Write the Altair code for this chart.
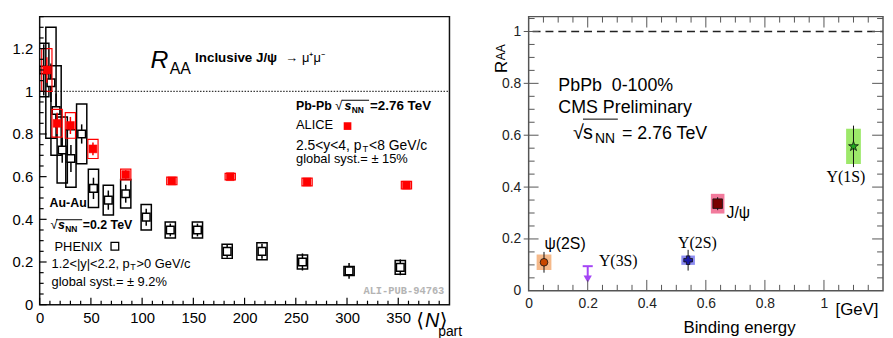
import altair as alt
import pandas as pd

# ---------------- Left panel: inclusive J/psi R_AA vs <Npart> ----------------
phenix_npart = [4, 11, 16, 22, 30.5, 41, 52.5, 67, 84, 104, 127.5, 154, 183, 217, 256.5, 302, 352]
phenix_raa = [1.10, 1.04, 0.91, 0.725, 0.685, 0.80, 0.545, 0.49, 0.52, 0.41, 0.35, 0.35, 0.25, 0.25, 0.20, 0.158, 0.175]
phenix_stat = [0.12, 0.09, 0.08, 0.06, 0.063, 0.045, 0.05, 0.045, 0.042, 0.04, 0.03, 0.03, 0.03, 0.035, 0.04, 0.037, 0.037]
phenix_syst = [0.125, 0.26, 0.21, 0.155, 0.135, 0.14, 0.09, 0.07, 0.067, 0.06, 0.038, 0.038, 0.033, 0.04, 0.033, 0.021, 0.032]

alice_npart = [7, 17, 30, 52, 84, 129, 186, 261, 358]
alice_raa = [1.10, 0.85, 0.84, 0.73, 0.61, 0.58, 0.60, 0.575, 0.56]
alice_stat = [0.06, 0.05, 0.04, 0.03, 0.02, 0.012, 0.01, 0.01, 0.01]
alice_syst = [0.10, 0.065, 0.06, 0.045, 0.025, 0.018, 0.015, 0.018, 0.018]
npart_halfwidth = 5

left_x_labels = [0, 50, 100, 150, 200, 250, 300, 350]
left_x_minor = [v for v in range(10, 400, 10) if v % 50]
left_y_labels = [0, 0.2, 0.4, 0.6, 0.8, 1.0, 1.2]
left_y_minor = [round(0.05 * i, 2) for i in range(1, 28) if i % 4]

# ---------------- Right panel: R_AA vs binding energy ----------------
state_keys = ["psi2S", "ups2S", "jpsi", "ups1S"]
state_names = ["ψ(2S)", "Υ(2S)", "J/ψ", "Υ(1S)"]
binding_energy = [0.052, 0.54, 0.64, 1.10]
raa_value = [0.11, 0.118, 0.336, 0.557]
raa_stat = [0.04, 0.04, 0.025, 0.08]
raa_syst = [0.03, 0.018, 0.038, 0.068]
energy_halfwidth = [0.025, 0.023, 0.023, 0.025]
ups3s_name = "Υ(3S)"
ups3s_energy = 0.20
ups3s_limit = 0.095

right_x_labels = [0, 0.2, 0.4, 0.6, 0.8, 1.0]
right_x_minor = [round(0.05 * i, 2) for i in range(1, 24) if i % 4]
right_y_labels = [0, 0.2, 0.4, 0.6, 0.8, 1.0]
right_y_minor = [round(0.05 * i, 2) for i in range(1, 22) if i % 4]

# ---------------- styles ----------------
SANS = "Liberation Sans"
SERIF = "Liberation Serif"
MONO = "Liberation Mono"
box_colors = ["#f5b98a", "#8c8cf2", "#f27a9c", "#9de86a"]
marker_colors = ["#c84800", "#1a1aa8", "#7a0000", "#1fa81f"]
STAR = "M0,-1L0.2245,-0.309L0.951,-0.309L0.3633,0.118L0.5878,0.809L0,0.382L-0.5878,0.809L-0.3633,0.118L-0.951,-0.309L-0.2245,-0.309Z"
marker_shapes = ["circle", "cross", "square", STAR]
marker_sizes = [60, 110, 60, 200]
UPS3S_COLOR = "#a445f5"

W1, H1 = 414, 291
W2, H2 = 358, 277
X1 = alt.Scale(domain=[0, 400], nice=False, zero=False)
Y1 = alt.Scale(domain=[0, 1.35], nice=False, zero=False)
X2 = alt.Scale(domain=[0, 1.2], nice=False, zero=False)
Y2 = alt.Scale(domain=[0, 1.0573], nice=False, zero=False)

AX_X1 = alt.Axis(values=left_x_labels, format="d", ticks=False, tickSize=0, domain=False, grid=False,
                 labelFont=SANS, labelFontSize=15, labelColor="black", labelPadding=6,
                 labelFlush=False, title=None)
AX_Y1 = alt.Axis(values=left_y_labels, format="~g", ticks=False, tickSize=0, domain=False, grid=False,
                 labelFont=SANS, labelFontSize=15, labelColor="black", labelPadding=7, title=None)
AX_X2 = alt.Axis(values=right_x_labels, format="~g", ticks=False, tickSize=0, domain=False, grid=False,
                 labelFont=SANS, labelFontSize=14, labelColor="#222222", labelPadding=6,
                 labelFlush=False, title=None)
AX_Y2 = alt.Axis(values=right_y_labels, format="~g", ticks=False, tickSize=0, domain=False, grid=False,
                 labelFont=SANS, labelFontSize=14, labelColor="#222222", labelPadding=8, title=None)

PANELS = {"L": (X1, Y1, AX_X1, AX_Y1), "R": (X2, Y2, AX_X2, AX_Y2)}


def ex(p, field):
    xs, ys, xa, ya = PANELS[p]
    return alt.X(field, scale=xs, axis=xa)


def ey(p, field):
    xs, ys, xa, ya = PANELS[p]
    return alt.Y(field, scale=ys, axis=ya)


def txt(p, text, x, y, size, font=SANS, weight="normal", style="normal",
        color="black", align="left", angle=0):
    xs, ys, xa, ya = PANELS[p]
    enc_x = alt.value(x[1]) if isinstance(x, tuple) else alt.XDatum(x, scale=xs, axis=xa)
    enc_y = alt.value(y[1]) if isinstance(y, tuple) else alt.YDatum(y, scale=ys, axis=ya)
    mk = dict(align=align, baseline="alphabetic", font=font, fontSize=size,
              fontWeight=weight, fontStyle=style, color=color)
    if angle:
        mk["angle"] = angle
    return alt.Chart(pd.DataFrame({"t": [text]})).mark_text(**mk).encode(x=enc_x, y=enc_y, text="t:N")


def yticks(p, values, x0, x1, color, width=1.0):
    return alt.Chart(pd.DataFrame({"v": values})).mark_rule(color=color, strokeWidth=width).encode(
        y=ey(p, "v:Q"), x=alt.value(x0), x2=alt.value(x1))


def xticks(p, values, y0, y1, color, width=1.0):
    return alt.Chart(pd.DataFrame({"v": values})).mark_rule(color=color, strokeWidth=width).encode(
        x=ex(p, "v:Q"), y=alt.value(y0), y2=alt.value(y1))


def with_bounds(df, center, value, halfw, syst, stat):
    df = df.copy()
    df["bx1"] = df[center] - halfw
    df["bx2"] = df[center] + halfw
    df["by1"] = df[value] - df[syst]
    df["by2"] = df[value] + df[syst]
    df["ey1"] = df[value] - df[stat]
    df["ey2"] = df[value] + df[stat]
    return df


# ================= LEFT CHART =================
ph = with_bounds(pd.DataFrame({"npart": phenix_npart, "raa": phenix_raa, "stat": phenix_stat, "syst": phenix_syst}),
                 "npart", "raa", npart_halfwidth, "syst", "stat")
al = with_bounds(pd.DataFrame({"npart": alice_npart, "raa": alice_raa, "stat": alice_stat, "syst": alice_syst}),
                 "npart", "raa", npart_halfwidth, "syst", "stat")

axis_anchor1 = alt.Chart(pd.DataFrame({"v": [0]})).mark_point(opacity=0).encode(x=ex("L", "v:Q"), y=ey("L", "v:Q"))
unity1 = alt.Chart(pd.DataFrame({"v": [1.0]})).mark_rule(color="black", strokeWidth=1, strokeDash=[1.5, 1.5]).encode(
    y=ey("L", "v:Q"), x=alt.value(0), x2=alt.value(W1))

ph_box = alt.Chart(ph).mark_rect(fill="white", fillOpacity=0, stroke="black", strokeWidth=1.5, clip=True).encode(
    x=ex("L", "bx1:Q"), x2="bx2:Q", y=ey("L", "by1:Q"), y2="by2:Q")
ph_err = alt.Chart(ph).mark_rule(color="black", strokeWidth=1.5).encode(
    x=ex("L", "npart:Q"), y=ey("L", "ey1:Q"), y2="ey2:Q")
ph_pt = alt.Chart(ph).mark_point(shape="square", filled=True, fill="white", stroke="black",
                                 strokeWidth=1.5, size=60, opacity=1).encode(
    x=ex("L", "npart:Q"), y=ey("L", "raa:Q"))

al_box = alt.Chart(al).mark_rect(fill="white", fillOpacity=0, stroke="#ff0000", strokeWidth=1.2).encode(
    x=ex("L", "bx1:Q"), x2="bx2:Q", y=ey("L", "by1:Q"), y2="by2:Q")
al_err = alt.Chart(al).mark_rule(color="#ff0000", strokeWidth=1.5).encode(
    x=ex("L", "npart:Q"), y=ey("L", "ey1:Q"), y2="ey2:Q")
al_pt = alt.Chart(al).mark_point(shape="square", filled=True, fill="#ff0000", stroke="#ff0000",
                                 strokeWidth=0.5, size=64, opacity=1).encode(
    x=ex("L", "npart:Q"), y=ey("L", "raa:Q"))

leg_alice = alt.Chart(pd.DataFrame({"x": [300.5], "y": [0.837]})).mark_point(
    shape="square", filled=True, fill="#ff0000", size=60, opacity=1).encode(x=ex("L", "x:Q"), y=ey("L", "y:Q"))
leg_phenix = alt.Chart(pd.DataFrame({"x": [73.4], "y": [0.274]})).mark_point(
    shape="square", filled=True, fill="white", stroke="black", strokeWidth=1.3, size=60, opacity=1).encode(
    x=ex("L", "x:Q"), y=ey("L", "y:Q"))

overline_l = alt.Chart(pd.DataFrame({"a": [295.0, 16.0], "b": [321.5, 41.5], "y": [0.958, 0.398]})).mark_rule(
    color="black", strokeWidth=1).encode(x=ex("L", "a:Q"), x2="b:Q", y=ey("L", "y:Q"))

L = lambda *a, **k: txt("L", *a, **k)
left_texts = [
    L("R", 108.2, 1.108, 25, style="italic"),
    L("AA", 127.0, 1.083, 16),
    L("Inclusive J/ψ", 151.7, 1.138, 13.5, weight="bold"),
    L("→ μ⁺μ⁻", 240.0, 1.138, 13),
    L("Pb-Pb", 250.2, 0.914, 12.5, weight="bold"),
    L("√", 288.5, 0.914, 13),
    L("s", 297.5, 0.914, 12.5, weight="bold", style="italic"),
    L("NN", 304.5, 0.900, 8.5, weight="bold"),
    L("=2.76 TeV", 322.5, 0.914, 13.5, weight="bold"),
    L("ALICE", 250.2, 0.821, 13),
    L("2.5<y<4, p", 250.2, 0.7236, 14),
    L("T", 315.0, 0.714, 9.5),
    L("<8 GeV/c", 321.5, 0.7236, 14),
    L("global syst.= ± 15%", 250.2, 0.663, 13),
    L("Au-Au", 9.7, 0.459, 12.5, weight="bold"),
    L("√", 10.6, 0.3525, 13),
    L("s", 17.8, 0.3525, 12.5, weight="bold", style="italic"),
    L("NN", 25.0, 0.3386, 8.5, weight="bold"),
    L("=0.2 TeV", 42.0, 0.3525, 12.5, weight="bold"),
    L("PHENIX", 14.5, 0.25, 13),
    L("1.2<|y|<2.2, p", 11.6, 0.1716, 13),
    L("T", 88.5, 0.162, 9),
    L(">0 GeV/c", 94.5, 0.1716, 13),
    L("global syst.= ± 9.2%", 11.6, 0.088, 13),
    L("ALI-PUB-94763", 316.0, 0.051, 10.5, font=MONO, weight="bold", color="#b4b4b4"),
    L("⟨", 367.5, -0.104, 20, font="DejaVu Sans"),
    L("N", 376.0, -0.104, 20, style="italic"),
    L("⟩", 390.5, -0.104, 20, font="DejaVu Sans"),
    L("part", 389.0, -0.146, 14),
]

left = alt.layer(
    axis_anchor1, unity1, ph_box, ph_err, ph_pt, al_box, al_err, al_pt, leg_alice, leg_phenix, overline_l,
    yticks("L", left_y_labels, 0, 7, "black", 1.2),
    yticks("L", left_y_minor, 0, 4, "black", 1.2),
    xticks("L", left_x_labels, H1, H1 - 7, "black", 1.2),
    xticks("L", left_x_minor, H1, H1 - 4, "black", 1.2),
    *left_texts,
).properties(width=W1, height=H1, view=alt.ViewBackground(stroke="#111111", strokeWidth=1.5))

# ================= RIGHT CHART =================
cms = with_bounds(pd.DataFrame({"state": state_keys, "e": binding_energy, "raa": raa_value,
                                "stat": raa_stat, "syst": raa_syst, "hw": energy_halfwidth}),
                  "e", "raa", 0, "syst", "stat")
cms["bx1"] = cms["e"] - cms["hw"]
cms["bx2"] = cms["e"] + cms["hw"]

axis_anchor2 = alt.Chart(pd.DataFrame({"v": [0]})).mark_point(opacity=0).encode(x=ex("R", "v:Q"), y=ey("R", "v:Q"))
unity2 = alt.Chart(pd.DataFrame({"v": [1.0]})).mark_rule(color="#222222", strokeWidth=1.5, strokeDash=[8, 5]).encode(
    y=ey("R", "v:Q"), x=alt.value(4), x2=alt.value(W2))

cms_box = alt.Chart(cms).mark_rect(opacity=1).encode(
    x=ex("R", "bx1:Q"), x2="bx2:Q", y=ey("R", "by1:Q"), y2="by2:Q",
    color=alt.Color("state:N", scale=alt.Scale(domain=state_keys, range=box_colors), legend=None))
cms_err = alt.Chart(cms).mark_rule(color="#111111", strokeWidth=1).encode(
    x=ex("R", "e:Q"), y=ey("R", "ey1:Q"), y2="ey2:Q")
cms_pt = alt.Chart(cms).mark_point(filled=True, stroke="#111111", strokeWidth=0.8, opacity=1).encode(
    x=ex("R", "e:Q"), y=ey("R", "raa:Q"),
    fill=alt.Fill("state:N", scale=alt.Scale(domain=state_keys, range=marker_colors), legend=None),
    shape=alt.Shape("state:N", scale=alt.Scale(domain=state_keys, range=marker_shapes), legend=None),
    size=alt.Size("state:N", scale=alt.Scale(domain=state_keys, range=marker_sizes), legend=None))

u3 = pd.DataFrame({"e": [ups3s_energy], "lim": [ups3s_limit],
                   "c1": [ups3s_energy - 0.017], "c2": [ups3s_energy + 0.017], "tip": [0.045]})
u3_cap = alt.Chart(u3).mark_rule(color=UPS3S_COLOR, strokeWidth=2).encode(
    x=ex("R", "c1:Q"), x2="c2:Q", y=ey("R", "lim:Q"))
u3_line = alt.Chart(u3).mark_rule(color=UPS3S_COLOR, strokeWidth=2).encode(
    x=ex("R", "e:Q"), y=ey("R", "lim:Q"), y2="tip:Q")
u3_head = alt.Chart(u3).mark_point(shape="triangle-down", filled=True, fill=UPS3S_COLOR, size=70, opacity=1).encode(
    x=ex("R", "e:Q"), y=ey("R", "tip:Q"))

overline_r = alt.Chart(pd.DataFrame({"a": [0.184], "b": [0.302], "y": [0.662]})).mark_rule(
    color="black", strokeWidth=1).encode(x=ex("R", "a:Q"), x2="b:Q", y=ey("R", "y:Q"))

R = lambda *a, **k: txt("R", *a, **k)
right_texts = [
    R(state_names[0], 0.0536, 0.160, 16),
    R(ups3s_name, 0.238, 0.0954, 16, font=SERIF),
    R(state_names[1], 0.506, 0.164, 16, font=SERIF),
    R(state_names[2], 0.670, 0.282, 16),
    R(state_names[3], 1.009, 0.42, 16, font=SERIF),
    R("PbPb\u00a0\u00a00-100%", 0.1006, 0.771, 18),
    R("CMS Preliminary", 0.1006, 0.687, 18),
    R("√", 0.150, 0.584, 20),
    R("s", 0.184, 0.584, 20),
    R("NN", 0.2246, 0.569, 14),
    R("= 2.76 TeV", 0.316, 0.584, 18),
    R("R", ("px", -22), 0.84, 17, angle=270),
    R("AA", ("px", -24), 0.889, 12, angle=270),
    R("Binding energy", 0.714, ("px", H2 + 43), 17, align="center"),
    R("[GeV]", 1.039, ("px", H2 + 24), 17),
]

TICK2 = "#555555"
right = alt.layer(
    axis_anchor2, unity2, cms_box, cms_err, cms_pt, u3_cap, u3_line, u3_head, overline_r,
    yticks("R", right_y_labels[1:], -5, 10, TICK2),
    yticks("R", right_y_minor, 0, 6, TICK2),
    yticks("R", right_y_labels[1:], W2, W2 - 11, TICK2),
    yticks("R", right_y_minor, W2, W2 - 6, TICK2),
    xticks("R", right_x_labels[1:], H2, H2 - 11, TICK2),
    xticks("R", right_x_minor, H2, H2 - 6, TICK2),
    xticks("R", right_x_labels[1:], 0, 11, TICK2),
    xticks("R", right_x_minor, 0, 6, TICK2),
    *right_texts,
).properties(width=W2, height=H2, view=alt.ViewBackground(stroke="#555555", strokeWidth=1.5))

chart = alt.hconcat(left, right, spacing=80, bounds="flush").properties(
    padding={"left": 3, "top": 5, "right": 0, "bottom": 0}
).configure(background="white")

chart.save("out.html", embed_options={"renderer": "svg", "actions": False})
